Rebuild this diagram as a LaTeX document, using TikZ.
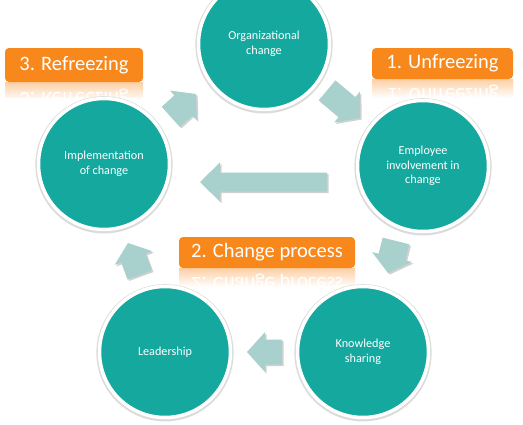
\documentclass[tikz,border=0pt]{standalone}
\usepackage{fontspec}
\setmainfont{Carlito}
\usetikzlibrary{shadows}
\definecolor{tealc}{RGB}{20,168,158}
\definecolor{arrc}{RGB}{168,209,205}
\definecolor{orangec}{RGB}{248,136,28}
\newcommand\blockarr[6]{%
  \fill[black,opacity=0.18,shift={(1.6,1.6)},shift={(#1)},rotate=#2]
    (0,0) -- (-#4,#5) -- (-#4,#6) -- (-#3,#6) -- (-#3,-#6) -- (-#4,-#6) -- (-#4,-#5) -- cycle;
  \fill[arrc,shift={(#1)},rotate=#2]
    (0,0) -- (-#4,#5) -- (-#4,#6) -- (-#3,#6) -- (-#3,-#6) -- (-#4,-#6) -- (-#4,-#5) -- cycle;
}
\begin{document}
\begin{tikzpicture}[x=1pt,y=-1pt,
  circ/.style={circle, fill=tealc, draw=white, line width=3.5pt, minimum size=131pt,
    inner sep=0pt, align=center, text=white, font=\fontsize{12.2}{14.5}\selectfont},
  ring/.style={fill=black!14},
  lbltext/.style={text=white, font=\fontsize{20.5}{22}\selectfont, inner sep=0pt},
  lbl/.style={lbltext, fill=orangec, rounded corners=4pt}]
\useasboundingbox[fill=white] (0,0) rectangle (523,424);
\begin{scope}
\clip (0,0) rectangle (523,424);
% reflections
\begin{scope}
  \clip (5,82) rectangle (143,97);
  \fill[top color=orangec!40!white, bottom color=white] (5,82) rectangle (143,101);
  \node[lbltext, yscale=-1] at (74,98) {3. Refreezing};
\end{scope}
\begin{scope}
  \clip (372,79) rectangle (513,97);
  \fill[top color=orangec!40!white, bottom color=white] (372,79) rectangle (513,98);
  \node[lbltext, yscale=-1] at (442.5,94) {1. Unfreezing};
\end{scope}
\begin{scope}
  \clip (179,268) rectangle (355,286);
  \fill[top color=orangec!40!white, bottom color=white] (179,268) rectangle (355,287);
  \node[lbltext, yscale=-1] at (267,283) {2. Change process};
\end{scope}
% circle shadows / outlines
\foreach \p in {{264,44},{423,166},{104,164},{165,352},{363,352}}{
  \fill[ring] ([yshift=-0.8pt]\p) circle (68.6);
}
% circles
\node[circ] (org) at (264,44) {Organizational\\change};
\node[circ] (emp) at (423,166) {Employee\\involvement in\\change};
\node[circ] (impl) at (104,164) {Implementation\\of change};
\node[circ] (lead) at (165,352) {Leadership};
\node[circ] (know) at (363,352) {Knowledge\\sharing};
% block arrows: tip, angle, length, head length, head half width, body half width
\blockarr{196,94}{42}{34}{17}{20}{13.5}
\blockarr{360,118}{-40}{43}{17}{20}{13}
\blockarr{200,182}{180}{127}{20}{19.5}{9.5}
\blockarr{388,273}{-104}{33}{16.5}{20.5}{13.8}
\blockarr{247,352}{180}{35}{18}{20}{12.5}
\blockarr{128,243}{110}{34}{16}{20}{13}
% labels
\node[lbl, minimum width=138pt, minimum height=34pt] (l3) at (74,65) {3. Refreezing};
\node[lbl, minimum width=141pt, minimum height=31pt] (l1) at (442.5,63.5) {1. Unfreezing};
\node[lbl, minimum width=176pt, minimum height=31pt] (l2) at (267,252.5) {2. Change process};
\end{scope}
\end{tikzpicture}
\end{document}
